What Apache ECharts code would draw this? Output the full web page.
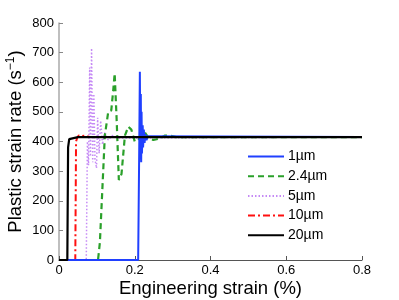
<!DOCTYPE html>
<html><head><meta charset="utf-8">
<script src="https://cdn.jsdelivr.net/npm/echarts@6/dist/echarts.min.js"></script>
<style>html,body{margin:0;padding:0;background:#fff}#c{width:399px;height:300px}</style>
</head><body><div id="c"></div>
<script>
const seriesNames = ['1\u00b5m', '2.4\u00b5m', '5\u00b5m', '10\u00b5m', '20\u00b5m'];
const xTicks = [0, 0.2, 0.4, 0.6, 0.8];
const yTicks = [0, 100, 200, 300, 400, 500, 600, 700, 800];
const s1um = [[0,0],[0.209,0],[0.212,400],[0.2135,635],[0.215,340],[0.216,560],[0.217,330],[0.218,500],[0.219,360],[0.221,455],[0.222,380],[0.224,440],[0.226,395],[0.228,425],[0.231,405],[0.235,418],[0.24,412],[0.8,415]];
const s24um = [[0,0],[0.103,0],[0.108,60],[0.121,420],[0.13,500],[0.138,505],[0.143,570],[0.147,630],[0.152,480],[0.158,270],[0.165,290],[0.174,420],[0.183,450],[0.191,440],[0.2,400],[0.209,405],[0.218,420],[0.227,430],[0.235,415],[0.249,405],[0.266,410],[0.28,420],[0.293,420],[0.31,415],[0.8,415]];
const s5um = [[0,0],[0.072,0],[0.075,400],[0.078,320],[0.081,650],[0.083,350],[0.086,715],[0.089,330],[0.092,560],[0.095,340],[0.099,310],[0.102,480],[0.106,360],[0.11,470],[0.115,390],[0.12,430],[0.13,405],[0.14,420],[0.16,412],[0.8,415]];
const s10um = [[0,0],[0.043,0],[0.045,400],[0.048,412],[0.052,420],[0.06,418],[0.07,420],[0.08,415],[0.8,415]];
const s20um = [[0,0],[0.022,0],[0.024,380],[0.027,408],[0.032,412],[0.05,415],[0.8,415]];

const chart = echarts.init(document.getElementById('c'), null, {renderer:'canvas'});
const font = 'Liberation Sans, Arial, sans-serif';
function mk(name, data, color, type, width){
  return {name, type:'line', data, symbol:'none', showSymbol:false, animation:false,
    lineStyle:{color, type, width}, itemStyle:{color}};
}
chart.setOption({
  animation:false,
  grid:{left:59, right:37, top:23, bottom:40, containLabel:false, outerBoundsMode:'none'},
  legend:{
    orient:'vertical', left:247, top:149.5, padding:0, itemWidth:36, itemHeight:12, itemGap:5.7,
    itemStyle:{opacity:0},
    textStyle:{fontFamily:font, fontSize:14, color:'#000', padding:[0,0,0,-1]},
    data:seriesNames
  },
  xAxis:{type:'value', min:0, max:0.8, interval:0.2,
    name:'Engineering strain (%)', nameLocation:'middle', nameGap:19, nameMoveOverlap:false,
    nameTextStyle:{fontFamily:font, fontSize:18.5, color:'#000'},
    axisLine:{show:true, lineStyle:{color:'#555', width:1}},
    axisTick:{show:true, inside:true, length:4, lineStyle:{color:'#555'}},
    axisLabel:{fontFamily:font, fontSize:13, color:'#000', margin:4, formatter:v=>String(v)},
    splitLine:{show:false}},
  yAxis:{type:'value', min:0, max:800, interval:100,
    name:'Plastic strain rate (s{sup|\u22121})', nameLocation:'middle', nameGap:32, nameMoveOverlap:false,
    nameTextStyle:{fontFamily:font, fontSize:18.5, color:'#000',
      rich:{sup:{fontFamily:font, fontSize:12, verticalAlign:'top', padding:[0,0,10,0], color:'#000'}}},
    axisLine:{show:true, lineStyle:{color:'#aaa', width:1.5}},
    axisTick:{show:true, inside:true, length:4, lineStyle:{color:'#888'}},
    axisLabel:{fontFamily:font, fontSize:13, color:'#000', margin:5},
    splitLine:{show:false}},
  series:[
    mk(seriesNames[2], s5um, '#c58af5', [1.5,2], 1.5),
    mk(seriesNames[3], s10um, '#ff1010', [7,3,2,3], 2),
    mk(seriesNames[1], s24um, '#2aa02a', [6,4], 2.2),
    mk(seriesNames[0], s1um, '#2040ff', 'solid', 2),
    mk(seriesNames[4], s20um, '#000', 'solid', 2.2)
  ]
});
</script></body></html>
